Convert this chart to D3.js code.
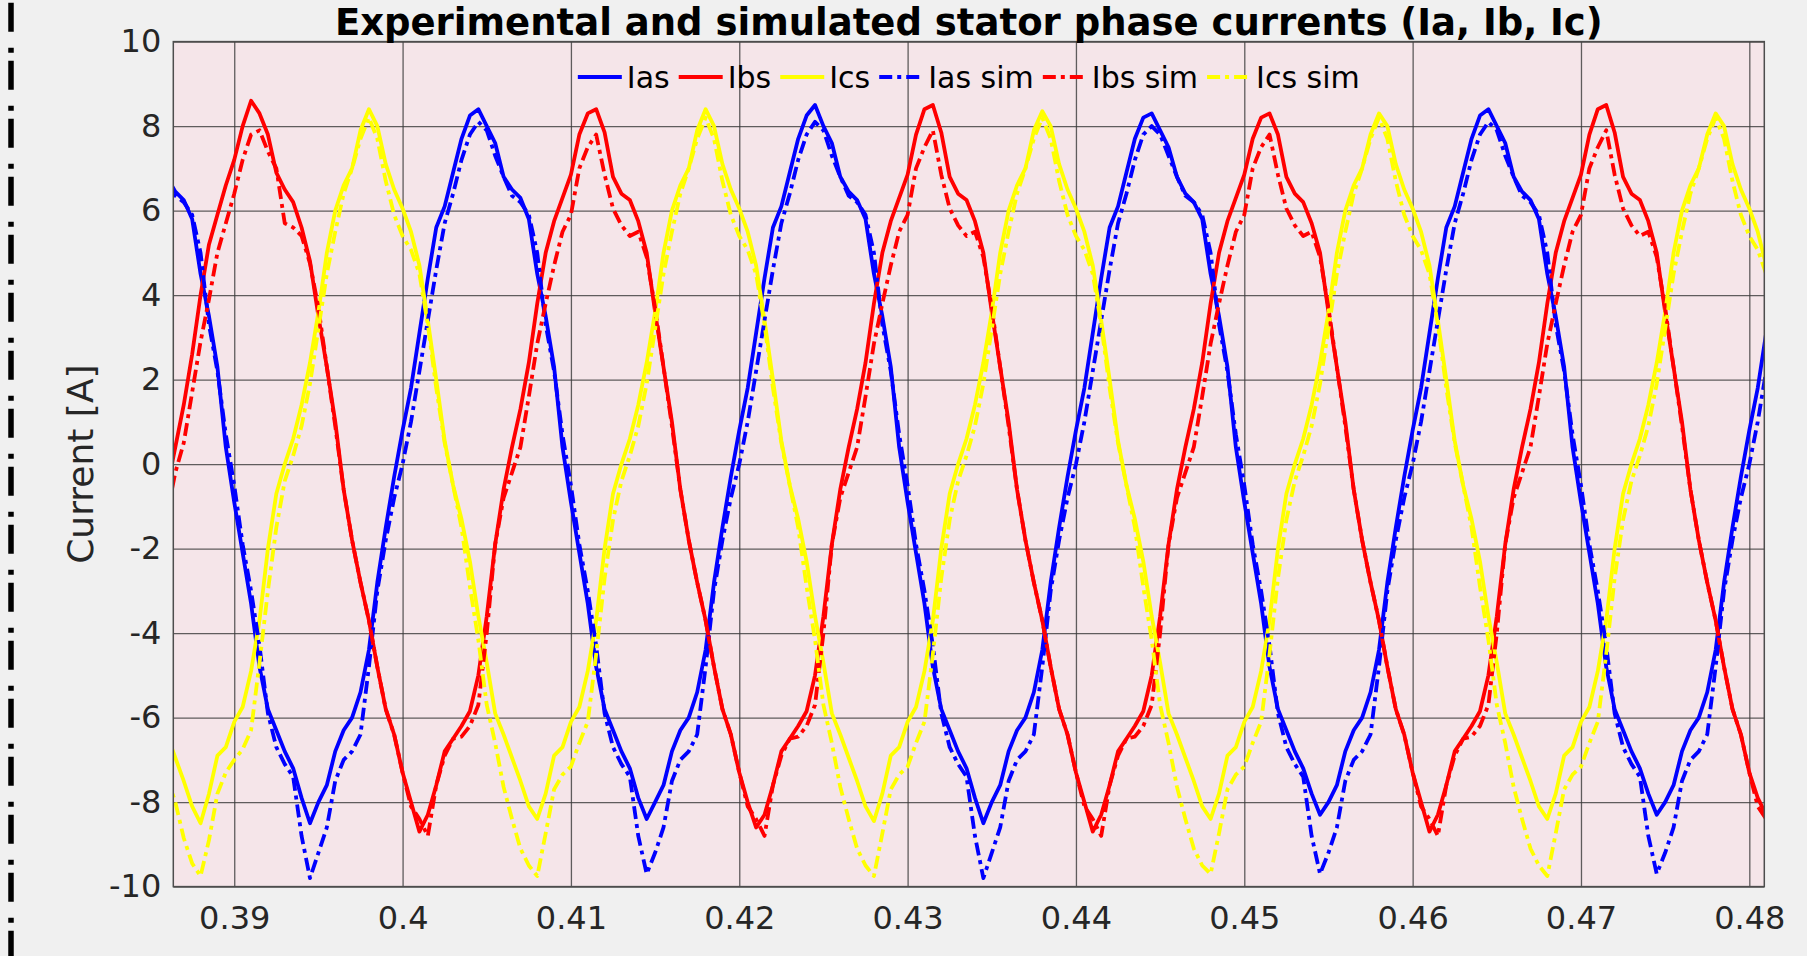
<!DOCTYPE html>
<html><head><meta charset="utf-8">
<script src="https://cdn.jsdelivr.net/npm/d3@7"></script>
<style>html,body{margin:0;padding:0;background:#f0f0f0;}svg{display:block;}</style>
</head><body>
<svg id="chart" width="1807" height="956"></svg>
<script>
// ---- sampling of the traces (seconds) ----
const tStart = 0.386;
const tStep = 0.0005;
const xDomain = [0.38638, 0.48089];
const yDomain = [-10, 10];
const xTicks = [0.39, 0.40, 0.41, 0.42, 0.43, 0.44, 0.45, 0.46, 0.47, 0.48];
const xTickLabels = ["0.39", "0.4", "0.41", "0.42", "0.43", "0.44", "0.45", "0.46", "0.47", "0.48"];
const yTicks = [-10, -8, -6, -4, -2, 0, 2, 4, 6, 8, 10];
const yTickLabels = ["-10", "-8", "-6", "-4", "-2", "0", "2", "4", "6", "8", "10"];
const seriesNames = ["Ias", "Ibs", "Ics", "Ias sim", "Ibs sim", "Ics sim"];
const seriesColors = ["#0000ff", "#ff0000", "#ffff00", "#0000ff", "#ff0000", "#ffff00"];
const seriesDashed = [false, false, false, true, true, true];
const titleText = "Experimental and simulated stator phase currents (Ia, Ib, Ic)";
const yLabelText = "Current [A]";

// ---- measured currents [A], one value every 0.5 ms from 0.386 s ----
const Ias = [
6.8, 6.45, 6.25, 5.8, 4.5, 3.5, 2.3, 0.4, -0.9, -2.1,
-3.3, -4.8, -5.8, -6.3, -6.8, -7.2, -7.9, -8.5, -8.0, -7.6,
-6.8, -6.3, -6.0, -5.4, -4.4, -2.8, -1.5, -0.3, 0.8, 1.8,
3.1, 4.4, 5.6, 6.1, 6.9, 7.7, 8.25,
8.4, 8.0, 7.6, 6.8, 6.5, 6.3, 5.8, 4.5, 3.5, 2.3,
0.4, -0.9, -2.1, -3.3, -4.8, -5.8, -6.3, -6.8, -7.2, -7.9,
-8.4, -8.0, -7.6, -6.8, -6.3, -6.0, -5.4, -4.4, -2.8, -1.5,
-0.3, 0.8, 1.8, 3.1, 4.4, 5.6, 6.1, 6.9, 7.7, 8.25,
8.5, 8.0, 7.6, 6.8, 6.45, 6.25, 5.8, 4.5, 3.5, 2.3,
0.4, -0.9, -2.1, -3.3, -4.8, -5.8, -6.3, -6.8, -7.2, -7.9,
-8.5, -8.0, -7.6, -6.8, -6.3, -6.0, -5.4, -4.4, -2.8, -1.5,
-0.3, 0.8, 1.8, 3.1, 4.4, 5.6, 6.1, 6.9, 7.7, 8.2,
8.3, 7.9, 7.5, 6.8, 6.4, 6.2, 5.8, 4.5, 3.5, 2.3,
0.4, -0.9, -2.1, -3.3, -4.8, -5.8, -6.3, -6.8, -7.2, -7.8,
-8.3, -8.0, -7.6, -6.8, -6.3, -6.0, -5.4, -4.4, -2.8, -1.5,
-0.3, 0.8, 1.8, 3.1, 4.4, 5.6, 6.1, 6.9, 7.7, 8.25,
8.4, 8.0, 7.6, 6.8, 6.45, 6.25, 5.8, 4.5, 3.5, 2.3,
0.4, -0.9, -2.1, -3.3, -4.8, -5.8, -6.3, -6.8, -7.2, -7.8,
-8.3, -8.0, -7.6, -6.8, -6.3, -6.0, -5.4, -4.4, -2.8, -1.5,
-0.3, 0.8, 1.8, 3.1
];
const Ibs = [
-0.6, 0.4, 1.4, 2.6, 4.0, 5.2, 5.9, 6.6, 7.2, 8.0, 8.6,
8.3, 7.8, 6.9, 6.5, 6.2, 5.6, 4.8, 3.5, 2.3, 1.0,
-0.6, -1.8, -2.8, -3.7, -4.8, -5.8, -6.4, -7.3, -8.0, -8.7,
-8.3, -7.6, -6.8, -6.5, -6.2, -5.85, -5.0, -3.6, -1.9, -0.6,
0.4, 1.3, 2.4, 3.8, 5.0, 5.75, 6.3, 6.85, 7.8, 8.3,
8.4, 7.85, 6.8, 6.4, 6.25, 5.75, 5.0, 3.6, 2.3, 1.0,
-0.6, -1.8, -2.8, -3.7, -4.8, -5.8, -6.4, -7.3, -8.0, -8.6,
-8.3, -7.6, -6.8, -6.5, -6.2, -5.85, -5.0, -3.6, -1.9, -0.6,
0.4, 1.3, 2.4, 3.8, 5.0, 5.75, 6.3, 6.85, 7.8, 8.4,
8.5, 7.85, 6.8, 6.4, 6.25, 5.75, 5.0, 3.6, 2.3, 1.0,
-0.6, -1.8, -2.8, -3.7, -4.8, -5.8, -6.4, -7.3, -8.0, -8.7,
-8.3, -7.6, -6.8, -6.5, -6.2, -5.85, -5.0, -3.6, -1.9, -0.6,
0.4, 1.3, 2.4, 3.8, 5.0, 5.75, 6.3, 6.85, 7.7, 8.2,
8.3, 7.8, 6.8, 6.4, 6.2, 5.7, 5.0, 3.6, 2.3, 1.0,
-0.6, -1.8, -2.8, -3.7, -4.8, -5.8, -6.4, -7.3, -8.0, -8.7,
-8.3, -7.6, -6.8, -6.5, -6.2, -5.85, -5.0, -3.6, -1.9, -0.6,
0.4, 1.3, 2.4, 3.8, 5.0, 5.75, 6.3, 6.85, 7.8, 8.4,
8.5, 7.85, 6.8, 6.4, 6.25, 5.75, 5.0, 3.6, 2.3, 1.0,
-0.6, -1.8, -2.8, -3.7, -4.8, -5.8, -6.4, -7.3, -7.9, -8.3
];
const Ics = [
-6.4, -6.95, -7.5, -8.1, -8.5, -7.8, -6.9, -6.7, -6.1, -5.75,
-4.9, -3.7, -2.0, -0.7, 0.0, 0.6, 1.4, 2.4, 3.6, 5.0,
6.0, 6.6, 7.0, 7.9,
8.4, 8.0, 7.1, 6.5, 6.05, 5.5, 4.7, 3.4, 2.0, 0.55,
-0.5, -1.3, -2.3, -3.6, -4.7, -5.9, -6.4, -6.95, -7.5, -8.1,
-8.4, -7.8, -6.9, -6.7, -6.1, -5.75, -4.9, -3.7, -2.0, -0.7,
0.0, 0.6, 1.4, 2.4, 3.6, 5.0, 6.0, 6.6, 7.0, 7.9,
8.4, 8.0, 7.1, 6.5, 6.05, 5.5, 4.7, 3.4, 2.0, 0.55,
-0.5, -1.3, -2.3, -3.6, -4.7, -5.9, -6.4, -6.95, -7.5, -8.1,
-8.45, -7.8, -6.9, -6.7, -6.1, -5.75, -4.9, -3.7, -2.0, -0.7,
0.0, 0.6, 1.4, 2.4, 3.6, 5.0, 6.0, 6.6, 7.0, 7.9,
8.35, 8.0, 7.1, 6.5, 6.05, 5.5, 4.7, 3.4, 2.0, 0.55,
-0.5, -1.3, -2.3, -3.6, -4.7, -5.9, -6.4, -6.95, -7.5, -8.1,
-8.4, -7.8, -6.9, -6.7, -6.1, -5.75, -4.9, -3.7, -2.0, -0.7,
0.0, 0.6, 1.4, 2.4, 3.6, 5.0, 6.0, 6.6, 7.0, 7.8,
8.3, 8.0, 7.1, 6.5, 6.05, 5.5, 4.7, 3.4, 2.0, 0.55,
-0.5, -1.3, -2.3, -3.6, -4.7, -5.9, -6.4, -6.95, -7.5, -8.1,
-8.4, -7.8, -6.9, -6.7, -6.1, -5.75, -4.9, -3.7, -2.0, -0.7,
0.0, 0.6, 1.4, 2.4, 3.6, 5.0, 6.0, 6.6, 7.0, 7.8,
8.3, 8.0, 7.1, 6.5, 6.05, 5.5, 4.7
];

// ---- simulated currents [A], same sampling ----
const IasSim = [
6.8, 6.35, 6.2, 5.9, 5.0, 3.3, 2.2, 0.7, -0.5, -1.9,
-3.0, -4.3, -5.9, -6.7, -7.1, -7.4, -8.8, -9.8, -9.2, -8.6,
-7.5, -7.0, -6.8, -6.4, -4.8, -3.0, -1.8, -0.8, 0.0, 1.0,
2.2, 3.4, 4.6, 5.7, 6.4, 7.2, 7.8,
8.1, 7.9, 7.3, 6.8, 6.35, 6.2, 5.9, 5.0, 3.3, 2.2,
0.7, -0.5, -1.9, -3.0, -4.3, -5.9, -6.7, -7.1, -7.4, -8.8,
-9.7, -9.2, -8.6, -7.5, -7.0, -6.8, -6.4, -4.8, -3.0, -1.8,
-0.8, 0.0, 1.0, 2.2, 3.4, 4.6, 5.7, 6.4, 7.2, 7.8,
8.1, 7.9, 7.3, 6.8, 6.35, 6.2, 5.9, 5.0, 3.3, 2.2,
0.7, -0.5, -1.9, -3.0, -4.3, -5.9, -6.7, -7.1, -7.4, -8.8,
-9.8, -9.2, -8.6, -7.5, -7.0, -6.8, -6.4, -4.8, -3.0, -1.8,
-0.8, 0.0, 1.0, 2.2, 3.4, 4.6, 5.7, 6.4, 7.2, 7.8,
8.0, 7.8, 7.3, 6.8, 6.35, 6.2, 5.9, 5.0, 3.3, 2.2,
0.7, -0.5, -1.9, -3.0, -4.3, -5.9, -6.7, -7.1, -7.4, -8.8,
-9.7, -9.2, -8.6, -7.5, -7.0, -6.8, -6.4, -4.8, -3.0, -1.8,
-0.8, 0.0, 1.0, 2.2, 3.4, 4.6, 5.7, 6.4, 7.2, 7.8,
8.1, 7.9, 7.3, 6.8, 6.35, 6.2, 5.9, 5.0, 3.3, 2.2,
0.7, -0.5, -1.9, -3.0, -4.3, -5.9, -6.7, -7.1, -7.4, -8.8,
-9.7, -9.2, -8.6, -7.5, -7.0, -6.8, -6.4, -4.8, -3.0, -1.8,
-0.8, 0.0, 1.0, 2.2
];
const IbsSim = [
-1.2, -0.2, 0.5, 1.7, 2.9, 3.9, 5.0, 5.7, 6.4, 7.2, 7.8,
7.9, 7.4, 7.0, 5.7, 5.6, 5.4, 4.75, 3.7, 2.3, 0.9,
-0.6, -1.8, -2.8, -3.7, -4.8, -5.8, -6.4, -7.3, -8.1, -8.4,
-8.8, -7.6, -6.9, -6.5, -6.45, -6.2, -5.7, -4.0, -1.9, -0.8,
-0.2, 0.4, 1.6, 2.85, 3.8, 4.7, 5.5, 5.9, 7.0, 7.5,
7.8, 6.85, 6.05, 5.65, 5.4, 5.5, 4.9, 3.7, 2.3, 0.9,
-0.6, -1.8, -2.8, -3.7, -4.8, -5.8, -6.4, -7.3, -8.1, -8.4,
-8.8, -7.6, -6.9, -6.5, -6.45, -6.2, -5.7, -4.0, -1.9, -0.8,
-0.2, 0.4, 1.6, 2.85, 3.8, 4.7, 5.5, 5.9, 7.0, 7.5,
7.9, 6.85, 6.05, 5.65, 5.4, 5.5, 4.9, 3.7, 2.3, 0.9,
-0.6, -1.8, -2.8, -3.7, -4.8, -5.8, -6.4, -7.3, -8.1, -8.4,
-8.8, -7.6, -6.9, -6.5, -6.45, -6.2, -5.7, -4.0, -1.9, -0.8,
-0.2, 0.4, 1.6, 2.85, 3.8, 4.7, 5.5, 5.9, 7.0, 7.5,
7.8, 6.85, 6.05, 5.65, 5.4, 5.5, 4.9, 3.7, 2.3, 0.9,
-0.6, -1.8, -2.8, -3.7, -4.8, -5.8, -6.4, -7.3, -8.1, -8.4,
-8.8, -7.6, -6.9, -6.5, -6.45, -6.2, -5.7, -4.0, -1.9, -0.8,
-0.2, 0.4, 1.6, 2.85, 3.8, 4.7, 5.5, 5.9, 7.0, 7.5,
7.9, 6.85, 6.05, 5.65, 5.4, 5.5, 4.9, 3.7, 2.3, 0.9,
-0.6, -1.8, -2.8, -3.7, -4.8, -5.8, -6.4, -7.3, -8.1, -8.4
];
const IcsSim = [
-7.4, -8.0, -8.85, -9.45, -9.75, -8.9, -7.8, -7.3, -7.0, -6.75,
-6.3, -4.7, -3.0, -1.5, -0.4, 0.2, 0.9, 1.9, 3.2, 4.5,
5.5, 6.4, 7.0, 7.7,
8.2, 7.7, 6.7, 5.9, 5.4, 5.07, 4.5, 3.3, 1.8, 0.5,
-0.5, -1.5, -2.9, -4.16, -5.7, -6.6, -7.64, -8.4, -9.1, -9.5,
-9.75, -8.74, -7.7, -7.35, -7.16, -6.6, -6.1, -4.5, -2.7, -1.32,
-0.4, 0.2, 0.9, 1.9, 3.2, 4.5, 5.5, 6.4, 7.0, 7.7,
8.2, 7.7, 6.7, 5.9, 5.4, 5.07, 4.5, 3.3, 1.8, 0.5,
-0.5, -1.5, -2.9, -4.16, -5.7, -6.6, -7.64, -8.4, -9.1, -9.5,
-9.75, -8.74, -7.7, -7.35, -7.16, -6.6, -6.1, -4.5, -2.7, -1.32,
-0.4, 0.2, 0.9, 1.9, 3.2, 4.5, 5.5, 6.4, 7.0, 7.7,
8.2, 7.7, 6.7, 5.9, 5.4, 5.07, 4.5, 3.3, 1.8, 0.5,
-0.5, -1.5, -2.9, -4.16, -5.7, -6.6, -7.64, -8.4, -9.1, -9.5,
-9.7, -8.74, -7.7, -7.35, -7.16, -6.6, -6.1, -4.5, -2.7, -1.32,
-0.4, 0.2, 0.9, 1.9, 3.2, 4.5, 5.5, 6.4, 7.0, 7.7,
8.2, 7.7, 6.7, 5.9, 5.4, 5.07, 4.5, 3.3, 1.8, 0.5,
-0.5, -1.5, -2.9, -4.16, -5.7, -6.6, -7.64, -8.4, -9.1, -9.5,
-9.75, -8.74, -7.7, -7.35, -7.16, -6.6, -6.1, -4.5, -2.7, -1.32,
-0.4, 0.2, 0.9, 1.9, 3.2, 4.5, 5.5, 6.4, 7.0, 7.7,
8.2, 7.7, 6.7, 5.9, 5.4, 5.07, 4.5
];

// ---------------- drawing ----------------
const W = 1807, H = 956;
const plot = {left: 173.3, right: 1764.3, top: 41.6, bottom: 886.6};
const FONT = "'DejaVu Sans', Verdana, sans-serif";
const seriesValues = [Ias, Ibs, Ics, IasSim, IbsSim, IcsSim];
const times = d3.range(Ias.length).map(i => tStart + i * tStep);

const svg = d3.select("#chart");
svg.append("rect").attr("width", W).attr("height", H).attr("fill", "#f0f0f0");

// figure border (dash-dot) on the left
svg.append("line")
  .attr("x1", 11).attr("x2", 11).attr("y1", 0).attr("y2", H)
  .attr("stroke", "#000").attr("stroke-width", 5.5)
  .attr("stroke-dasharray", "29,16,5,8").attr("stroke-dashoffset", -2.7 + 58);

const x = d3.scaleLinear().domain(xDomain).range([plot.left, plot.right]);
const y = d3.scaleLinear().domain(yDomain).range([plot.bottom, plot.top]);

svg.append("rect")
  .attr("x", plot.left).attr("y", plot.top)
  .attr("width", plot.right - plot.left).attr("height", plot.bottom - plot.top)
  .attr("fill", "#f5e5e9");

const gridColor = "#3a3a3a";
const tickColor = "#262626";

// x axis with grid
const gx = svg.append("g").attr("transform", `translate(0,${plot.bottom})`)
  .call(d3.axisBottom(x).tickValues(xTicks)
    .tickFormat((d, i) => xTickLabels[i])
    .tickSize(-(plot.bottom - plot.top)).tickPadding(20));
gx.select(".domain").remove();
gx.selectAll(".tick line").attr("stroke", gridColor).attr("stroke-opacity", 0.8).attr("stroke-width", 1.3);
gx.selectAll(".tick text").attr("fill", tickColor).style("font-family", FONT).style("font-size", "32px");

// y axis with grid
const gy = svg.append("g").attr("transform", `translate(${plot.left},0)`)
  .call(d3.axisLeft(y).tickValues(yTicks)
    .tickFormat((d, i) => yTickLabels[i])
    .tickSize(-(plot.right - plot.left)).tickPadding(12));
gy.select(".domain").remove();
gy.selectAll(".tick line").attr("stroke", gridColor).attr("stroke-opacity", 0.8).attr("stroke-width", 1.3);
gy.selectAll(".tick text").attr("fill", tickColor).style("font-family", FONT).style("font-size", "32px");

// clip
svg.append("defs").append("clipPath").attr("id", "clip")
  .append("rect").attr("x", plot.left).attr("y", plot.top)
  .attr("width", plot.right - plot.left).attr("height", plot.bottom - plot.top);

const line = d3.line().x((d, i) => x(times[i])).y(d => y(d));
const lines = svg.append("g").attr("clip-path", "url(#clip)");
const DASH = "13,5,4,5";
const LW = 3.8;
seriesValues.forEach((vals, s) => {
  lines.append("path").datum(vals)
    .attr("d", line)
    .attr("fill", "none")
    .attr("stroke", seriesColors[s])
    .attr("stroke-width", LW)
    .attr("stroke-linejoin", "round")
    .attr("stroke-dasharray", seriesDashed[s] ? DASH : null);
});

// box
svg.append("rect")
  .attr("x", plot.left).attr("y", plot.top)
  .attr("width", plot.right - plot.left).attr("height", plot.bottom - plot.top)
  .attr("fill", "none").attr("stroke", "#4d4d4d").attr("stroke-width", 1.5);

// title
svg.append("text")
  .attr("x", (plot.left + plot.right) / 2).attr("y", 34.5)
  .attr("text-anchor", "middle")
  .style("font-family", FONT).style("font-weight", "bold").style("font-size", "37px")
  .attr("fill", "#000").text(titleText);

// y label
svg.append("text")
  .attr("transform", `translate(93,${(plot.top + plot.bottom) / 2}) rotate(-90)`)
  .attr("text-anchor", "middle")
  .style("font-family", FONT).style("font-size", "36px")
  .attr("fill", tickColor).text(yLabelText);

// legend (horizontal, no box)
const legend = svg.append("g");
const legendY = 77, sampleLen = 44, gapText = 5, gapItem = 9;
let cx = 0;
seriesNames.forEach((name, s) => {
  const g = legend.append("g");
  g.append("line").attr("x1", cx).attr("x2", cx + sampleLen).attr("y1", legendY).attr("y2", legendY)
    .attr("stroke", seriesColors[s]).attr("stroke-width", LW)
    .attr("stroke-dasharray", seriesDashed[s] ? DASH : null);
  const t = g.append("text").attr("x", cx + sampleLen + gapText).attr("y", legendY).attr("dy", "0.35em")
    .style("font-family", FONT).style("font-size", "30px").attr("fill", "#000").text(name);
  const w = t.node().getComputedTextLength();
  cx += sampleLen + gapText + w + gapItem;
});
const totalW = cx - gapItem;
legend.attr("transform", `translate(${(plot.left + plot.right) / 2 - totalW / 2},0)`);
</script>
</body></html>
